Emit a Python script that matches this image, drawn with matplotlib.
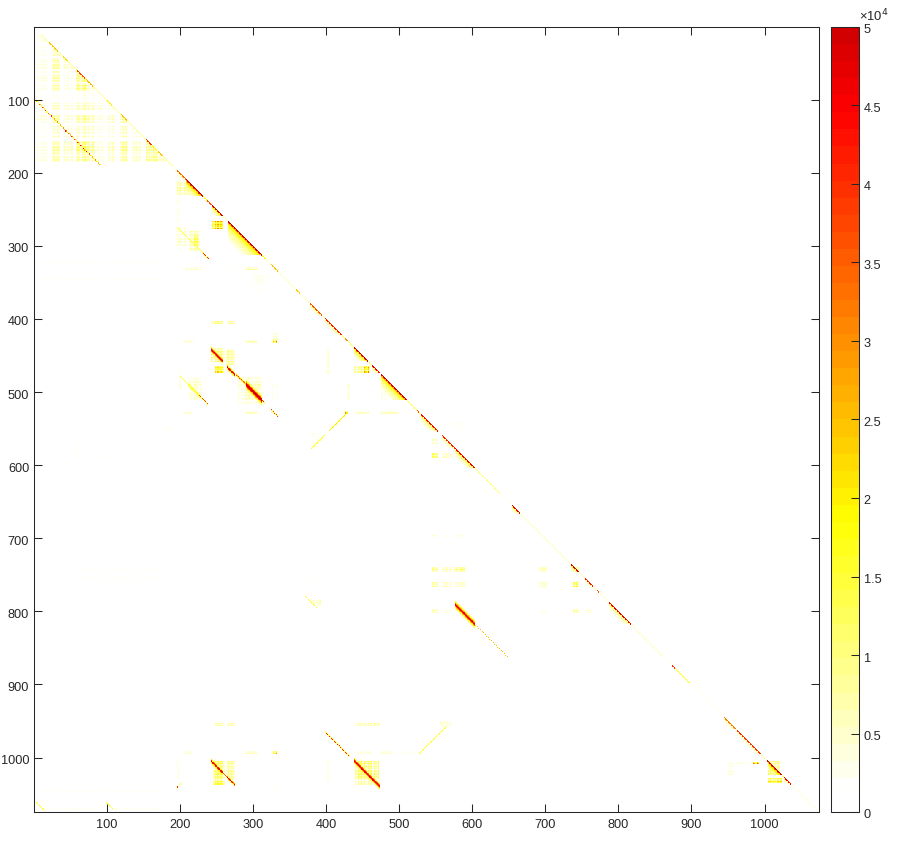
import matplotlib
matplotlib.use('Agg')
import matplotlib.pyplot as plt
from matplotlib.colors import LinearSegmentedColormap
from matplotlib.transforms import ScaledTranslation
import numpy as np

plt.rcParams['font.family'] = ['Liberation Sans', 'DejaVu Sans']
plt.rcParams['font.size'] = 9.2

size = 1074
vmax = 50000
ink = '#262626'

# ---- data (values are counts) ----
# (first col, last col, value) on the main diagonal
diag_runs = [
    (10, 190, 7000), (22, 33, 24000), (40, 47, 22000), (60, 70, 38000), (72, 81, 26000),
    (101, 107, 20000), (120, 127, 24000), (154, 162, 40000), (170, 177, 24000),
    (190, 197, 4000), (197, 208, 34000), (209, 231, 49000), (232, 238, 18000), (238, 244, 36000),
    (245, 259, 48000), (260, 265, 6000), (266, 312, 49000), (313, 317, 18000), (318, 360, 5000),
    (325, 334, 24000), (360, 364, 24000), (365, 378, 5000), (378, 394, 36000), (395, 399, 6000),
    (399, 421, 42000), (422, 438, 10000), (427, 429, 30000), (439, 457, 49000), (458, 463, 10000),
    (464, 473, 46000), (476, 510, 49000), (511, 530, 10000), (525, 527, 36000), (531, 553, 44000),
    (559, 576, 42000), (577, 603, 46000), (604, 637, 9000), (638, 654, 3000), (655, 665, 46000),
    (666, 735, 4500), (736, 746, 48000), (747, 754, 6000), (755, 765, 42000), (771, 773, 36000),
    (766, 787, 5000), (788, 817, 46000), (818, 861, 4500), (862, 873, 3000), (874, 877, 40000),
    (878, 897, 14000), (898, 944, 2500), (945, 960, 32000), (961, 962, 6000), (963, 994, 40000),
    (995, 1003, 6000), (1004, 1023, 49000), (1024, 1026, 10000), (1027, 1036, 46000), (1037, 1072, 3500),
]
# (first, last, peak, depth) filled triangles under the diagonal
wedges = [
    (58, 72, 14000, 10), (154, 168, 16000, 10), (197, 208, 12000, 10), (209, 231, 36000, 18),
    (245, 259, 28000, 12), (266, 312, 28000, 30), (378, 394, 14000, 12), (399, 421, 14000, 12),
    (439, 457, 26000, 16), (464, 473, 20000, 9), (476, 510, 28000, 24), (531, 553, 16000, 16),
    (559, 576, 14000, 12), (577, 603, 18000, 16), (655, 665, 24000, 9), (736, 746, 28000, 8),
    (755, 765, 14000, 9), (788, 817, 14000, 16), (945, 960, 14000, 9), (963, 994, 10000, 12),
    (1005, 1023, 32000, 16), (1027, 1036, 16000, 8),
]
# (first col, last col, row minus col, peak, half width) bands off the diagonal
bands = [
    (197, 232, 78, 15000, 1), (232, 239, 78, 42000, 1), (243, 259, 199, 50000, 5),
    (265, 275, 201, 48000, 4), (278, 291, 199, 38000, 2), (291, 312, 199, 50000, 8),
    (312, 316, 199, 42000, 1), (200, 225, 278, 15000, 1), (212, 228, 278, 16000, 5), (225, 238, 278, 36000, 1),
    (325, 334, 199, 40000, 1), (399, 432, 566, 42000, 1), (439, 473, 566, 50000, 5),
    (243, 259, 762, 48000, 4), (260, 264, 762, 34000, 0), (265, 275, 762, 48000, 3),
    (577, 603, 214, 50000, 6), (604, 648, 214, 24000, 0), (370, 387, 408, 18000, 0),
    (4, 15, 1058, 18000, 1), (100, 108, 962, 18000, 1),
]
# (first col, last col, row plus col, peak) bands running the other way
anti_bands = [(380, 398, 957, 17000), (405, 428, 957, 21000), (528, 565, 1522, 15000), (195, 202, 1237, 10000)]
# dotted line below the first group, one value for every second col from 2
line_a_vals = [12000, 26000, 16000, 34000, 20000, 38000, 24000, 42000, 18000, 36000, 24000, 42000,
               20000, 38000, 24000, 44000, 18000, 36000, 22000, 42000, 24000, 44000, 20000, 36000,
               24000, 42000, 22000, 38000, 20000, 44000, 26000, 45000, 24000, 44000, 28000, 45000,
               20000, 36000, 22000, 38000, 18000, 42000, 22000, 36000, 26000]

# pale tiled part in the top left corner
tile_cols = [(5, 18), (25, 36), (40, 54), (58, 72), (74, 84), (86, 95), (101, 111), (118, 129),
             (134, 149), (154, 168), (168, 182)]
tile_vals = [
    [3200],
    [2400, 5600],
    [3200, 7200, 4000],
    [3200, 6400, 2400, 8000],
    [3200, 7200, 3200, 9600, 4800],
    [1600, 2400, 1600, 2400, 2400, 1600],
    [2400, 4800, 3200, 4800, 4800, 3200, 2400],
    [3200, 6400, 3200, 6400, 5600, 3200, 4000, 5600],
    [2400, 4800, 3200, 4800, 4800, 3200, 3200, 4800, 3200],
    [3200, 7200, 4800, 9600, 8000, 4000, 4800, 7200, 4800, 7200],
    [3200, 6400, 4000, 6400, 5600, 3200, 4000, 5600, 4000, 7200, 4800],
]
# (first row, last row, first col, last col, value)
blocks = [
    # around 200-340
    (212, 230, 197, 213, 7000), (235, 270, 197, 200, 2500), (267, 277, 245, 259, 20000),
    (275, 300, 197, 210, 4000), (280, 307, 213, 227, 6000), (286, 300, 218, 226, 10000),
    (330, 333, 208, 230, 5000), (330, 333, 291, 305, 7000), (330, 333, 270, 278, 3000),
    (322, 324, 10, 175, 1800), (344, 346, 10, 175, 2000), (340, 348, 300, 322, 2500),
    (345, 362, 300, 322, 1600), (250, 290, 120, 122, 1600),
    # around 400-530
    (403, 407, 245, 259, 8000), (403, 407, 267, 275, 7000), (385, 392, 38, 42, 1800),
    (429, 432, 205, 217, 5000), (429, 432, 245, 248, 4000), (429, 432, 291, 305, 6000),
    (428, 432, 328, 333, 24000), (420, 427, 328, 333, 5000), (440, 458, 243, 262, 9000),
    (442, 462, 264, 275, 8000), (465, 473, 248, 260, 16000), (468, 473, 197, 203, 1800),
    (480, 516, 280, 312, 3500), (490, 510, 290, 310, 5000), (481, 510, 212, 228, 4000),
    (480, 500, 200, 204, 3000), (440, 475, 400, 405, 3500),
    (465, 473, 439, 460, 9000), (465, 473, 452, 458, 22000), (527, 530, 205, 217, 4000),
    (527, 530, 291, 305, 5000), (527, 530, 326, 334, 3000), (527, 530, 426, 430, 30000),
    (527, 530, 440, 458, 5000), (527, 530, 476, 500, 5000), (490, 510, 326, 334, 2500),
    (490, 510, 428, 432, 4000), (490, 510, 476, 483, 2500), (440, 465, 428, 432, 2000),
    # around 550-600
    (565, 570, 545, 553, 5000), (584, 590, 545, 553, 9000), (584, 590, 560, 570, 5000),
    (570, 590, 60, 64, 2000), (570, 590, 88, 100, 1500), (548, 552, 176, 190, 2000),
    (540, 550, 570, 590, 2000), (555, 575, 380, 390, 2500),
    # around 700-800
    (695, 699, 545, 553, 3000), (695, 699, 560, 570, 2500), (695, 699, 576, 590, 2500),
    (740, 745, 545, 553, 8000), (740, 745, 560, 570, 7000), (740, 745, 576, 590, 9000),
    (740, 745, 692, 702, 7000), (740, 745, 738, 745, 10000),
    (760, 766, 545, 553, 7000), (760, 766, 560, 570, 6000), (760, 766, 576, 590, 5000),
    (760, 766, 692, 702, 6000), (760, 766, 738, 745, 14000), (797, 802, 545, 553, 5000),
    (797, 802, 560, 570, 3500), (797, 802, 692, 702, 3000), (797, 802, 738, 745, 7000),
    (797, 802, 756, 765, 4000),
    (740, 760, 60, 170, 1500), (740, 766, 370, 385, 1500), (785, 792, 380, 392, 5000),
    # around 950-1040
    (953, 957, 248, 262, 6000), (953, 957, 267, 275, 7000), (953, 957, 440, 462, 6000),
    (953, 957, 465, 472, 8000), (950, 958, 556, 570, 4000),
    (991, 995, 205, 217, 4000), (991, 995, 291, 305, 5000), (991, 995, 328, 333, 20000),
    (991, 995, 440, 462, 4000), (991, 995, 476, 490, 4000), (991, 995, 498, 520, 3000),
    (1005, 1030, 246, 262, 10000), (1005, 1030, 265, 275, 8000), (1031, 1037, 246, 262, 12000),
    (1005, 1030, 440, 462, 10000), (1005, 1030, 465, 472, 9000), (1031, 1037, 440, 462, 6000),
    (1000, 1035, 400, 405, 2500), (1000, 1030, 197, 200, 2500), (1005, 1023, 1005, 1020, 8000),
    (1028, 1034, 1005, 1023, 16000), (1006, 1008, 950, 990, 3000), (1006, 1008, 985, 992, 24000),
    (1006, 1025, 950, 958, 3000), (945, 975, 946, 948, 2500), (1044, 1046, 10, 175, 2000),
    (1070, 1072, 15, 90, 3000), (1070, 1072, 110, 175, 2500), (1040, 1041, 196, 197, 30000),
    (1040, 1046, 325, 345, 1800),
]
# how strongly a cell keeps its value, by two-cell stripe, gives the woven look of the pale blocks
weave = [1.25, 0.7, 1.1, 0.85, 0.55, 1.2, 0.8]
fade = [1.0, 0.62, 0.42, 0.3, 0.22, 0.16, 0.11, 0.07]
band_fade = [1.0, 0.85, 0.62, 0.44, 0.3, 0.2, 0.13, 0.08]

# ---- fill the matrix ----
m = np.zeros((size + 1, size + 1))

def put(r, c, v):
    if 0 <= r <= size and 0 <= c <= size:
        m[r, c] = max(m[r, c], v)

for i, row in enumerate(tile_vals):
    for j, v in enumerate(row):
        r0, r1 = tile_cols[i]
        c0, c1 = tile_cols[j]
        for r in range(r0 + 3, r1 + 4):
            for c in range(c0, c1 + 1):
                if c <= r:
                    put(r, c, v)

for r0, r1, c0, c1, v in blocks:
    m[r0:r1 + 1, c0:c1 + 1] = np.maximum(m[r0:r1 + 1, c0:c1 + 1], v)

stripes = np.array(weave)[(np.arange(size + 1) // 2) % len(weave)]
m = m * np.outer(stripes, stripes)

for c0, c1, peak, depth in wedges:
    for r in range(c0, c1 + 1):
        for c in range(c0, r + 1):
            k = int((r - c) * len(fade) / (depth + 1))
            if k < len(fade):
                put(r, c, peak * fade[k])

for c0, c1, off, peak, hw in bands:
    for c in range(c0, c1 + 1):
        put(c + off, c, peak)
        for k in range(1, hw + 1):
            v = peak * band_fade[min(k * len(band_fade) // (hw + 1), len(band_fade) - 1)]
            put(c + off + k, c, v)
            put(c + off - k, c, v)

for c0, c1, total, peak in anti_bands:
    for c in range(c0, c1 + 1):
        put(total - c, c, peak)
        put(total - c + 1, c, peak * 0.7)
        put(total - c - 1, c, peak * 0.4)

for i, v in enumerate(line_a_vals):
    c = 2 + 2 * i
    put(c + 98, c, v)
    put(c + 99, c + 1, v * 0.7)
    put(c + 98, c + 1, v * 0.7)
    put(c + 99, c, v)

for c0, c1, v in diag_runs:
    for c in range(c0, c1 + 1):
        put(c, c, v)
        put(c + 1, c, v)

# ---- colours: reversed hot, cut before it gets dark ----
hot_cut = LinearSegmentedColormap.from_list(
    'hot_cut', [(0, '#ffffff'), (0.02, '#ffffff'), (0.37, '#ffff00'), (0.9, '#ff0000'), (1, '#d20000')], N=46)

fig = plt.figure(figsize=(8.98, 8.43), dpi=100, facecolor='white')
ax = fig.add_axes([34 / 898, 31 / 843, 785 / 898, 785 / 843])
im = ax.imshow(m, cmap=hot_cut, vmin=0, vmax=vmax, origin='upper', aspect='auto', interpolation='nearest',
               extent=(-0.5, size + 0.5, size + 0.5, -0.5))
ax.set_xlim(0.5, size + 0.5)
ax.set_ylim(size + 0.5, 0.5)
ax.set_xticks(np.arange(100, 1001, 100))
ax.set_yticks(np.arange(100, 1001, 100))
ax.tick_params(direction='in', length=5.8, width=0.75, top=True, right=True, colors=ink, pad=3.5)
ax.tick_params(axis='x', pad=5)
for s in ax.spines.values():
    s.set_linewidth(0.75)
    s.set_color(ink)

cax = fig.add_axes([831 / 898, 31 / 843, 28 / 898, 785 / 843])
cb = fig.colorbar(im, cax=cax, drawedges=False)
cb.set_ticks(np.arange(0, 50001, 5000))
cb.set_ticklabels(['0', '0.5', '1', '1.5', '2', '2.5', '3', '3.5', '4', '4.5', '5'])
cax.tick_params(direction='in', length=5.8, width=0.75, colors=ink, pad=3.5)
cb.outline.set_linewidth(0.75)
cb.outline.set_edgecolor(ink)
cax.text(1.0, 1.004, '×10$^{4}$', transform=cax.transAxes, color=ink, fontsize=9.4, ha='left', va='bottom',
         math_fontfamily='dejavusans')

# labels sit a little under their ticks in the reference
nudge = ScaledTranslation(0, -2 / 100, fig.dpi_scale_trans)
for tick in ax.yaxis.get_major_ticks():
    tick.label1.set_transform(tick.label1.get_transform() + nudge)
for tick in cax.yaxis.get_major_ticks():
    tick.label2.set_transform(tick.label2.get_transform() + nudge)

fig.savefig('out.png', dpi=100)
